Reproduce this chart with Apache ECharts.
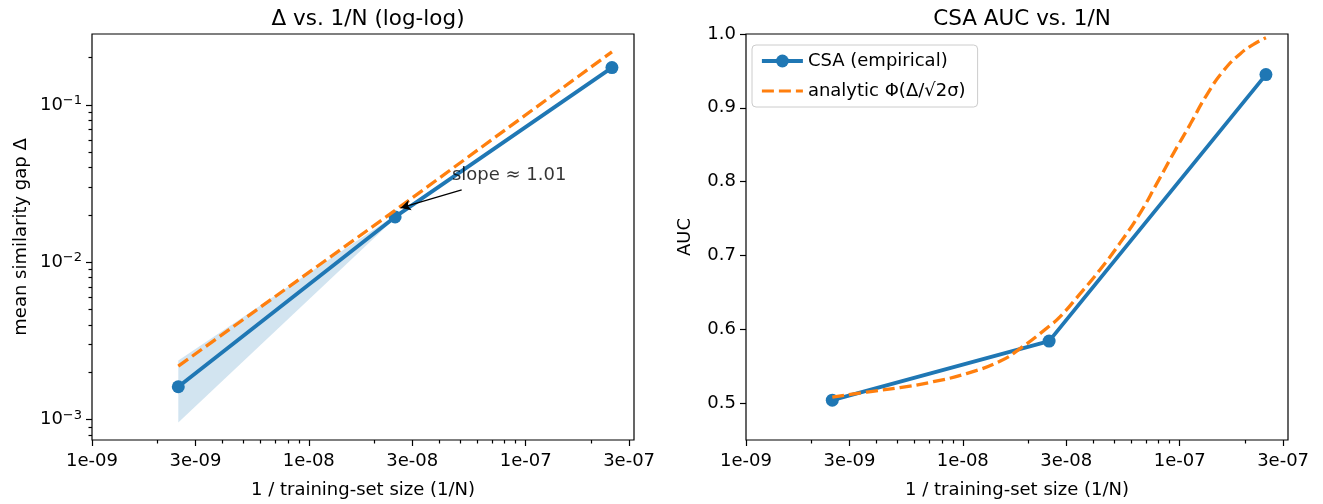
<!DOCTYPE html>
<html>
<head>
<meta charset="utf-8"/>
<title>Delta and CSA AUC vs 1/N</title>
<script src="https://cdn.jsdelivr.net/npm/echarts@6/dist/echarts.min.js"></script>
</head>
<body style="margin:0;background:#fff">
<div id="main" style="width:1323px;height:504px;"></div>
<script type="text/javascript">
// values
var invN = [2.5e-9, 2.5e-8, 2.5e-7];
var deltaMean = [1.62e-3, 0.01945, 0.173];
var deltaLow = [9.6e-4, 0.0191, 0.171];
var deltaHigh = [2.38e-3, 0.0199, 0.175];
var deltaRef = [2.19e-3, 0.0214, 0.218];
var aucEmp = [0.504, 0.584, 0.945];
var analyticX = [2.5e-9, 3.61e-9, 5.13e-9, 7.31e-9, 1.04e-8, 1.49e-8, 1.84e-8, 2.5e-8, 2.81e-8,
                 3.47e-8, 4.3e-8, 5.31e-8, 6.56e-8, 7.83e-8, 9.35e-8, 1.12e-7, 1.33e-7, 1.59e-7,
                 1.9e-7, 2.19e-7, 2.5e-7];
var analyticAuc = [0.508, 0.515, 0.521, 0.529, 0.540, 0.557, 0.574, 0.604, 0.617,
                   0.648, 0.681, 0.717, 0.757, 0.797, 0.838, 0.878, 0.917, 0.950,
                   0.973, 0.986, 0.995];
var xTickVals = [1e-9, 3e-9, 1e-8, 3e-8, 1e-7, 3e-7];
var xTickLabels = ['1e-09', '3e-09', '1e-08', '3e-08', '1e-07', '3e-07'];
var yTickVals = [1e-3, 1e-2, 1e-1];
var aucTicks = [0.5, 0.6, 0.7, 0.8, 0.9, 1.0];
var slopeText = 'slope ≈ 1.01';
var noteText = [4.57e-8, 0.0356];
var noteFrom = [5.07e-8, 0.0289];
var noteTo = [2.65e-8, 0.0222];

var L = function (v) { return Math.log10(v); };
var xRange = [1e-9, 3.16e-7];
var dRange = [7.43e-4, 0.283];
var aucRange = [0.45, 1.0];

var FONT = 'DejaVu Sans';
var BLUE = '#1f77b4', ORANGE = '#ff7f0e';
var tickStyle = {color: '#000', width: 1.2};
var txt = {fontFamily: FONT, fontSize: 18, color: '#000'};

function minorTicks(lo, hi, skip) {
    var out = [];
    for (var e = -10; e <= 0; e++) {
        for (var m = 2; m <= 9; m++) {
            var v = m * Math.pow(10, e);
            if (v >= lo && v <= hi && skip.indexOf(m) < 0) out.push(L(v));
        }
    }
    return out;
}

function xLabel(v) {
    var best = 0;
    for (var i = 1; i < xTickVals.length; i++) {
        if (Math.abs(L(xTickVals[i]) - v) < Math.abs(L(xTickVals[best]) - v)) best = i;
    }
    return xTickLabels[best];
}

function xAxes(g) {
    return [{
        type: 'value', gridIndex: g, position: 'bottom',
        min: L(xRange[0]), max: L(xRange[1]),
        axisLine: {show: false}, splitLine: {show: false},
        axisTick: {customValues: xTickVals.map(L), length: 6, lineStyle: tickStyle},
        axisLabel: Object.assign({customValues: xTickVals.map(L), formatter: xLabel, margin: 12}, txt),
        name: '1 / training-set size (1/N)', nameLocation: 'middle', nameGap: 41,
        nameTextStyle: txt
    }, {
        type: 'value', gridIndex: g, position: 'bottom',
        min: L(xRange[0]), max: L(xRange[1]),
        axisLine: {show: false}, splitLine: {show: false}, axisLabel: {show: false},
        axisTick: {customValues: minorTicks(xRange[0], xRange[1], [3]), length: 3.5, lineStyle: tickStyle}
    }];
}

var myChart = echarts.init(document.getElementById('main'));
var option = {
    animation: false,
    backgroundColor: '#fff',
    title: [
        {text: 'Δ vs. 1/N (log-log)', left: 363, top: 3, textAlign: 'center',
         textStyle: {fontFamily: FONT, fontSize: 21.5, fontWeight: 'normal', color: '#000'}},
        {text: 'CSA AUC vs. 1/N', left: 1017, top: 3, textAlign: 'center',
         textStyle: {fontFamily: FONT, fontSize: 21.5, fontWeight: 'normal', color: '#000'}}
    ],
    grid: [
        {left: 92, top: 34, width: 542, height: 408, show: true, borderColor: '#000', borderWidth: 1.2},
        {left: 746, top: 34, width: 542, height: 408, show: true, borderColor: '#000', borderWidth: 1.2}
    ],
    legend: {
        data: [
            {name: 'CSA (empirical)', lineStyle: {width: 3.8}},
            {name: 'analytic Φ(Δ/√2σ)', lineStyle: {width: 3}, itemStyle: {opacity: 0}}
        ],
        orient: 'vertical', left: 752, top: 45,
        itemWidth: 41, itemHeight: 16, itemGap: 12,
        padding: [7, 12, 7, 8],
        borderColor: '#cccccc', borderWidth: 1, borderRadius: 4,
        backgroundColor: 'rgba(255,255,255,0.8)',
        textStyle: txt
    },
    xAxis: xAxes(0).concat(xAxes(1)),
    yAxis: [{
        type: 'value', gridIndex: 0, position: 'left',
        min: L(dRange[0]), max: L(dRange[1]),
        axisLine: {show: false}, splitLine: {show: false},
        axisTick: {customValues: yTickVals.map(L), length: 6, lineStyle: tickStyle},
        axisLabel: Object.assign({
            customValues: yTickVals.map(L), margin: 10, lineHeight: 22,
            formatter: function (v) {
                var e = Math.round(v);
                return '10{sup|' + (e < 0 ? '−' : '') + Math.abs(e) + '}';
            },
            rich: {sup: {fontFamily: FONT, fontSize: 13, lineHeight: 13, verticalAlign: 'top', color: '#000'}}
        }, txt),
        name: 'mean similarity gap Δ', nameLocation: 'middle', nameGap: 62, nameTextStyle: txt
    }, {
        type: 'value', gridIndex: 0, position: 'left',
        min: L(dRange[0]), max: L(dRange[1]),
        axisLine: {show: false}, splitLine: {show: false}, axisLabel: {show: false},
        axisTick: {customValues: minorTicks(dRange[0], dRange[1], []), length: 3.5, lineStyle: tickStyle}
    }, {
        type: 'value', gridIndex: 1, position: 'left',
        min: aucRange[0], max: aucRange[1],
        axisLine: {show: false}, splitLine: {show: false},
        axisTick: {customValues: aucTicks, length: 6, lineStyle: tickStyle},
        axisLabel: Object.assign({customValues: aucTicks, margin: 10,
            formatter: function (v) { return v.toFixed(1); }}, txt),
        name: 'AUC', nameLocation: 'middle', nameGap: 52, nameTextStyle: txt
    }],
    series: [
        {
            name: 'std band', type: 'custom', xAxisIndex: 0, yAxisIndex: 0, silent: true, z: 1,
            data: [[L(invN[0]), L(deltaMean[0])]],
            renderItem: function (params, api) {
                var pts = [], i;
                for (i = 0; i < invN.length; i++) pts.push(api.coord([L(invN[i]), L(deltaHigh[i])]));
                for (i = invN.length - 1; i >= 0; i--) pts.push(api.coord([L(invN[i]), L(deltaLow[i])]));
                return {type: 'polygon', shape: {points: pts}, style: {fill: 'rgba(31,119,180,0.2)'}};
            }
        },
        {
            name: 'Δ empirical', type: 'line', xAxisIndex: 0, yAxisIndex: 0, z: 3,
            data: invN.map(function (x, i) { return [L(x), L(deltaMean[i])]; }),
            symbol: 'circle', symbolSize: 13,
            lineStyle: {color: BLUE, width: 3.8}, itemStyle: {color: BLUE}
        },
        {
            name: 'Δ reference', type: 'line', xAxisIndex: 0, yAxisIndex: 0, z: 4,
            data: invN.map(function (x, i) { return [L(x), L(deltaRef[i])]; }),
            symbol: 'none',
            lineStyle: {color: ORANGE, width: 3.3, type: [12, 5]}, itemStyle: {color: ORANGE}
        },
        {
            name: 'note', type: 'scatter', xAxisIndex: 0, yAxisIndex: 0, z: 5, silent: true,
            data: [[L(noteText[0]), L(noteText[1])]],
            symbolSize: 0,
            label: Object.assign({show: true, position: 'right', distance: 0,
                formatter: slopeText}, txt),
            markLine: {
                silent: true, symbol: ['none', 'arrow'], symbolSize: [8, 10],
                label: {show: false},
                lineStyle: {color: '#000', width: 1.2, type: 'solid'},
                data: [[{coord: [L(noteFrom[0]), L(noteFrom[1])]}, {coord: [L(noteTo[0]), L(noteTo[1])]}]]
            }
        },
        {
            name: 'CSA (empirical)', type: 'line', xAxisIndex: 2, yAxisIndex: 2, z: 3,
            data: invN.map(function (x, i) { return [L(x), aucEmp[i]]; }),
            symbol: 'circle', symbolSize: 13,
            lineStyle: {color: BLUE, width: 3.8}, itemStyle: {color: BLUE}
        },
        {
            name: 'analytic Φ(Δ/√2σ)', type: 'line', xAxisIndex: 2, yAxisIndex: 2, z: 4,
            data: analyticX.map(function (x, i) { return [L(x), analyticAuc[i]]; }),
            symbol: 'none', smooth: 0.5,
            lineStyle: {color: ORANGE, width: 3.3, type: [12, 5]}, itemStyle: {color: ORANGE}
        }
    ]
};
myChart.setOption(option);
</script>
</body>
</html>
